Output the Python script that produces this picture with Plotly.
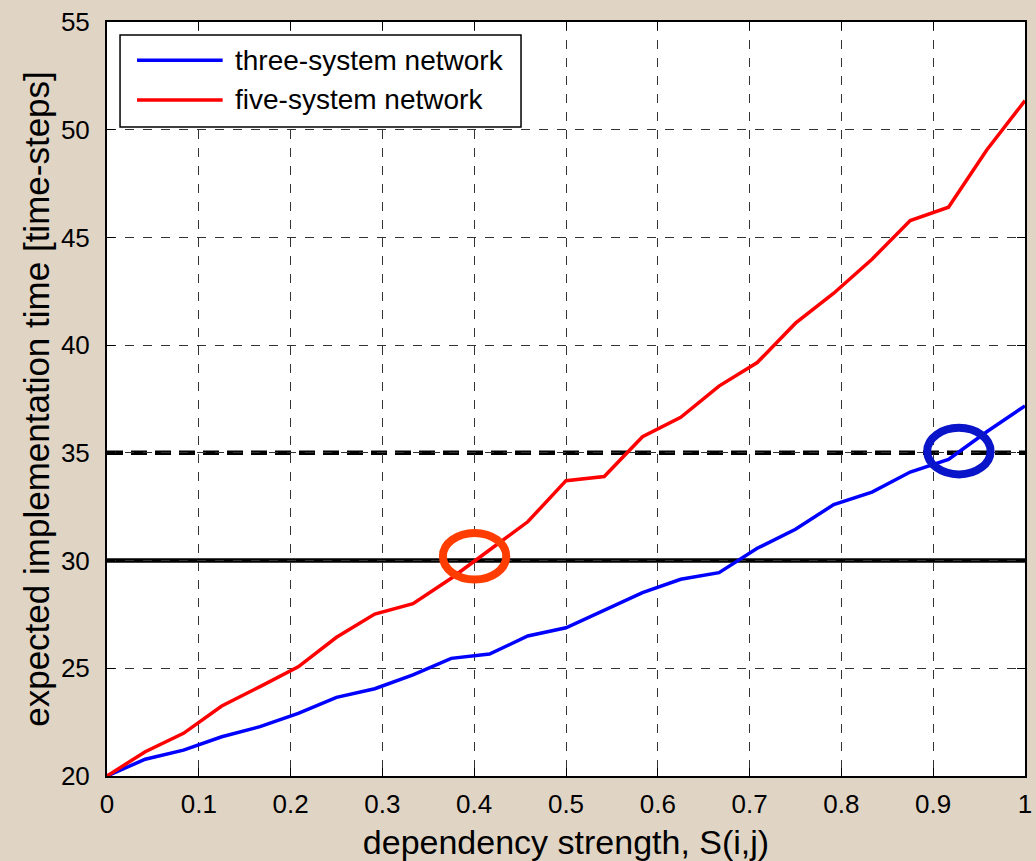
import plotly.graph_objects as go

# ---- data ----
s_values = [0, 1/24, 2/24, 3/24, 4/24, 5/24, 6/24, 7/24, 8/24, 9/24, 10/24, 11/24, 12/24,
            13/24, 14/24, 15/24, 16/24, 17/24, 18/24, 19/24, 20/24, 21/24, 22/24, 23/24, 1]
three_system = [20.0, 20.78, 21.2, 21.82, 22.29, 22.91, 23.65, 24.05, 24.69, 25.46, 25.66, 26.5, 26.88,
                27.68, 28.51, 29.13, 29.44, 30.57, 31.45, 32.6, 33.18, 34.11, 34.70, 35.98, 37.18]
five_system = [20.0, 21.13, 21.98, 23.25, 24.15, 25.07, 26.44, 27.52, 28.0, 29.18, 30.49, 31.8, 33.71,
               33.9, 35.75, 36.65, 38.1, 39.19, 41.02, 42.41, 43.99, 45.78, 46.40, 49.06, 51.35]
series_names = ["three-system network", "five-system network"]
series_colors = ["#0000ff", "#ff0000"]
threshold_solid = 30
threshold_dashed = 35
highlight_x = [0.4004, 0.928]
highlight_y = [30.2, 35.08]
highlight_colors = ["#ff3d00", "#0a14c8"]
x_ticks = [0, 0.1, 0.2, 0.3, 0.4, 0.5, 0.6, 0.7, 0.8, 0.9, 1]
x_tick_labels = ["0", "0.1", "0.2", "0.3", "0.4", "0.5", "0.6", "0.7", "0.8", "0.9", "1"]
y_ticks = [20, 25, 30, 35, 40, 45, 50, 55]

BG = "#e0d5c5"
FONT = "Liberation Sans, Arial, Helvetica, sans-serif"
fig = go.Figure()
for name, ys, col in zip(series_names, [three_system, five_system], series_colors):
    fig.add_trace(go.Scatter(x=s_values, y=ys, mode="lines", name=name, showlegend=False,
                             line=dict(color=col, width=3.5)))

# threshold lines
fig.add_shape(type="line", xref="paper", x0=0, x1=1, yref="y", y0=threshold_solid, y1=threshold_solid,
              line=dict(color="black", width=4.5), layer="below")
fig.add_shape(type="line", xref="paper", x0=0, x1=1, yref="y", y0=threshold_dashed, y1=threshold_dashed,
              line=dict(color="black", width=4.5, dash="16px,8px"), layer="below")

# highlight ellipses
rx, ry = 0.0345, 1.08
for hx, hy, hc in zip(highlight_x, highlight_y, highlight_colors):
    fig.add_shape(type="circle", xref="x", yref="y",
                  x0=hx - rx, x1=hx + rx, y0=hy - ry, y1=hy + ry,
                  line=dict(color=hc, width=8))

# legend box (MATLAB-style, drawn in paper coordinates)
fig.add_shape(type="rect", xref="paper", yref="paper", x0=0.0142, x1=0.451, y0=0.8607, y1=0.9828,
              line=dict(color="black", width=1.5), fillcolor="white")
legend_rows_y = [0.9493, 0.8966]
for name, col, ly in zip(series_names, series_colors, legend_rows_y):
    fig.add_shape(type="line", xref="paper", yref="paper", x0=0.0327, x1=0.126, y0=ly, y1=ly,
                  line=dict(color=col, width=3.5))
    fig.add_annotation(xref="paper", yref="paper", x=0.137, y=ly, text=name, showarrow=False,
                       xanchor="left", yanchor="middle", font=dict(size=28, family=FONT))

fig.update_layout(
    width=1036, height=861,
    paper_bgcolor=BG, plot_bgcolor="white",
    margin=dict(l=107, r=11, t=22, b=85, autoexpand=False),
    font=dict(family=FONT, color="black", size=26),
    showlegend=False,
)
fig.update_xaxes(range=[0, 1], tickvals=x_ticks, ticktext=x_tick_labels,
                 showline=True, linecolor="black", linewidth=2, mirror="ticks",
                 ticks="inside", ticklen=8, tickcolor="black",
                 showgrid=True, gridcolor="#333333", griddash="dash", gridwidth=1,
                 zeroline=False, ticklabelstandoff=4, automargin=False,
                 tickfont=dict(size=26),
                 title=dict(text="dependency strength, S(i,j)", standoff=14,
                            font=dict(size=34)))
fig.update_yaxes(range=[20, 55], tickvals=y_ticks,
                 showline=True, linecolor="black", linewidth=2, mirror="ticks",
                 ticks="inside", ticklen=8, tickcolor="black",
                 showgrid=True, gridcolor="#333333", griddash="dash", gridwidth=1,
                 zeroline=False, tickfont=dict(size=26), ticklabelstandoff=10, automargin=False,
                 title=dict(text="expected implementation time [time-steps]", standoff=1,
                            font=dict(size=35)))

fig.write_html("out.html", config={"displayModeBar": False},
               post_script="document.body.style.margin='0';document.body.style.background='%s';" % BG)
